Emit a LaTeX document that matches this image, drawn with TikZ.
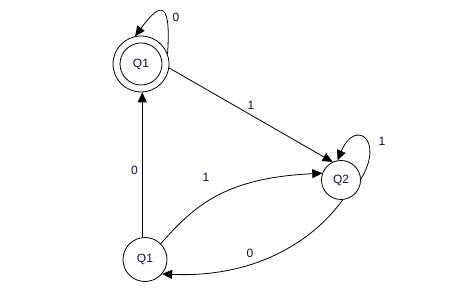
\documentclass[tikz,border=0pt]{standalone}
\usepackage{fontspec}
\setmainfont{Liberation Sans}
\usetikzlibrary{arrows.meta}
\definecolor{lbl}{RGB}{12,12,75}
\begin{document}
\begin{tikzpicture}[x=1pt,y=-1pt,
  every node/.style={font=\fontsize{12}{14}\selectfont, text=lbl, inner sep=0pt},
  state/.style={circle, draw=black, line width=0.8pt},
  edge/.style={draw=black, line width=0.8pt, -{Triangle[length=10pt,width=9pt]}},
  lab/.style={text=lbl}]
\useasboundingbox[fill=white] (0,0) rectangle (476,304);

\node[state, minimum size=56pt] (qa) at (141,64) {};
\node[state, minimum size=42pt] (qai) at (141,64) {Q1};
\node[state, minimum size=39pt] (qb) at (341,180) {Q2};
\node[state, minimum size=44pt] (qc) at (145,259.5) {Q1};

% self loop on top Q1
\draw[edge] (qa.21) .. controls (172,-8) and (156,8) .. (qa.102);
\node[lab] (l1) at (176,17) {0};

% top Q1 -> Q2
\draw[edge] (qa.-8) -- node[lab, pos=0.5, above=5pt] (l2) {1} (qb.115);

% self loop on Q2
\draw[edge] (qb.3) .. controls (385,140) and (355,118) .. (qb.100);
\node[lab] (l3) at (382,141) {1};

% bottom Q1 -> top Q1
\draw[edge] (qc.97) -- node[lab, pos=0.46, left=4pt] (l4) {0} (qa.south -| qc.97);

% bottom Q1 -> Q2
\draw[edge] (qc.45) .. controls (195,205) and (225,178) .. (qb.160);
\node[lab] (l5) at (206,177) {1};

% Q2 -> bottom Q1
\draw[edge] (qb.-85) .. controls (310,245) and (250,278) .. (qc.-40);
\node[lab] (l6) at (250,253) {0};
\end{tikzpicture}
\end{document}
